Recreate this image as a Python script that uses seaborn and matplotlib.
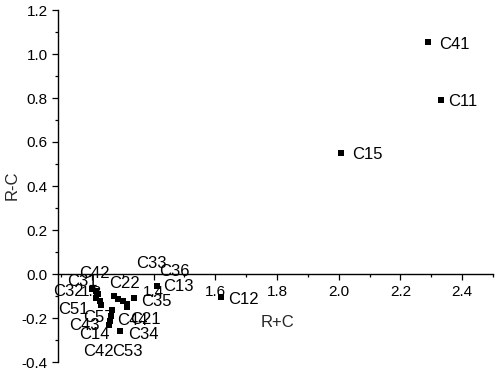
import matplotlib
matplotlib.use("Agg")
import matplotlib.pyplot as plt
import matplotlib.ticker as mticker
import seaborn as sns
import pandas as pd

# values (R+C, R-C)
labels = ["C11", "C41", "C15", "C12", "C13",
          "C32", "C31", "C42", "C51", "C57", "C43", "C22", "C33", "C36",
          "C21", "C35", "C44", "C53", "C14", "C42", "", "C34"]
r_plus_c = [2.333, 2.288, 2.007, 1.619, 1.412,
            1.200, 1.213, 1.221, 1.214, 1.227, 1.229, 1.270, 1.286, 1.300,
            1.313, 1.336, 1.265, 1.313, 1.261, 1.257, 1.254, 1.291]
r_minus_c = [0.790, 1.056, 0.549, -0.105, -0.055,
             -0.067, -0.079, -0.091, -0.109, -0.121, -0.140, -0.101, -0.112, -0.121,
             -0.136, -0.110, -0.162, -0.151, -0.192, -0.212, -0.230, -0.258]

# label offsets from their point, in pixels (dx right, dy up)
label_dx = [7, 12, 11, 7, 6,
            -39, -29, -19, -38, -17, -32, -4, 18, 36,
            3, 7, 5, -15, -32, -26, 0, 8]
label_dy = [0, -1, 0, -1, 1,
            -1, 11, 22, -10, -15, -19, 14, 37, 31,
            -14, -2, -9, -43, -17, -29, 0, -2]

df = pd.DataFrame({"R+C": r_plus_c, "R-C": r_minus_c, "label": labels})

sns.set_style("ticks")
plt.rcParams["font.family"] = ["Liberation Sans", "DejaVu Sans"]

fig = plt.figure(figsize=(4.98, 3.71), dpi=100)
ax = fig.add_axes([58 / 498, 1 - 362 / 371, 435 / 498, 352 / 371])

sns.scatterplot(data=df, x="R+C", y="R-C", marker="s", color="black",
                s=24, linewidth=0, ax=ax)

for i, row in df.iterrows():
    if row["label"]:
        ax.annotate(row["label"], (row["R+C"], row["R-C"]),
                    xytext=(label_dx[i], label_dy[i]), textcoords="offset pixels",
                    ha="left", va="center_baseline", fontsize=12, color="black")

ax.set_xlim(1.09, 2.5)
ax.set_ylim(-0.4, 1.2)
ax.xaxis.set_major_locator(mticker.MultipleLocator(0.2))
ax.xaxis.set_minor_locator(mticker.MultipleLocator(0.1))
ax.yaxis.set_major_locator(mticker.MultipleLocator(0.2))
ax.yaxis.set_minor_locator(mticker.MultipleLocator(0.1))
ax.xaxis.set_major_formatter(mticker.FormatStrFormatter("%.1f"))
ax.yaxis.set_major_formatter(mticker.FormatStrFormatter("%.1f"))
xt = [t for t in ax.get_xticks() if 1.15 < t < 2.45]
ax.set_xticks(xt)

ax.spines["top"].set_visible(False)
ax.spines["right"].set_visible(False)
ax.spines["bottom"].set_position(("data", 0))
for s in ["left", "bottom"]:
    ax.spines[s].set_linewidth(1.0)
    ax.spines[s].set_color("black")

ax.tick_params(which="major", direction="out", length=4, width=0.9, labelsize=11, colors="black")
ax.tick_params(which="minor", direction="out", length=2.5, width=0.9, colors="black")
ax.tick_params(axis="x", pad=4)

ax.set_xlabel("R+C", fontsize=12)
ax.set_ylabel("R-C", fontsize=12)
ax.xaxis.set_label_coords(0.505, 0.134)
ax.yaxis.set_label_coords(-0.088, 0.503)

fig.savefig("out.png", dpi=100)
